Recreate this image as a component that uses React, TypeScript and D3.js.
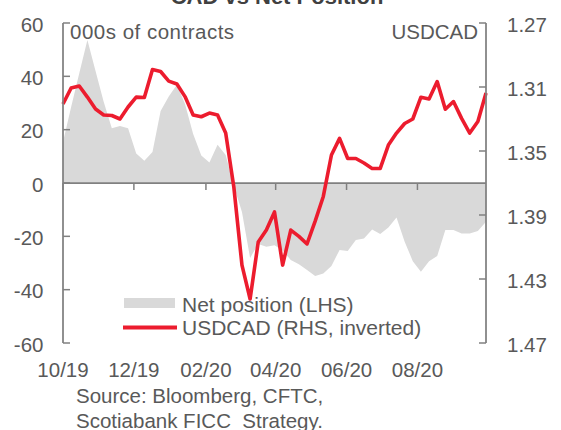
import * as d3 from 'd3'

// weekly CFTC report dates (Tuesdays)
const weeks = [
  '2019-10-01', '2019-10-08', '2019-10-15', '2019-10-22', '2019-10-29',
  '2019-11-05', '2019-11-12', '2019-11-19', '2019-11-26', '2019-12-03',
  '2019-12-10', '2019-12-17', '2019-12-24', '2019-12-31', '2020-01-07',
  '2020-01-14', '2020-01-21', '2020-01-28', '2020-02-04', '2020-02-11',
  '2020-02-18', '2020-02-25', '2020-03-03', '2020-03-10', '2020-03-17',
  '2020-03-24', '2020-03-31', '2020-04-07', '2020-04-14', '2020-04-21',
  '2020-04-28', '2020-05-05', '2020-05-12', '2020-05-19', '2020-05-26',
  '2020-06-02', '2020-06-09', '2020-06-16', '2020-06-23', '2020-06-30',
  '2020-07-07', '2020-07-14', '2020-07-21', '2020-07-28', '2020-08-04',
  '2020-08-11', '2020-08-18', '2020-08-25', '2020-09-01', '2020-09-08',
  '2020-09-15', '2020-09-22', '2020-09-29',
]

// CAD net position, 000s of contracts (LHS)
const netPosition = [
  15.4, 28.5, 41.2, 53.6, 42.0, 30.5, 20.5, 21.4, 20.5, 11.1,
  8.3, 11.6, 27.0, 32.4, 36.8, 29.6, 18.4, 10.3, 7.7, 14.3,
  10.5, -1.0, -10.9, -28.1, -22.9, -23.9, -23.3, -25.3, -28.9, -30.5,
  -32.6, -34.9, -33.9, -31.1, -25.1, -25.5, -21.4, -20.8, -17.4, -19.1,
  -16.7, -12.9, -22.0, -29.3, -33.3, -29.3, -27.4, -17.6, -17.6, -18.9,
  -18.9, -18.0, -14.5,
]

// USDCAD spot (RHS, inverted)
const usdcad = [
  1.3206, 1.3106, 1.3094, 1.3163, 1.3238, 1.3275, 1.3278, 1.3300, 1.3225, 1.3163,
  1.3166, 1.2991, 1.3003, 1.3063, 1.3081, 1.3160, 1.3275, 1.3286, 1.3263, 1.3275,
  1.3388, 1.3725, 1.4213, 1.4425, 1.4069, 1.3994, 1.3881, 1.4213, 1.3994, 1.4034,
  1.4081, 1.3938, 1.3784, 1.3525, 1.3421, 1.3547, 1.3547, 1.3575, 1.3609, 1.3609,
  1.3463, 1.3388, 1.3328, 1.3300, 1.3164, 1.3175, 1.3066, 1.3239, 1.3191, 1.3296,
  1.3388, 1.3316, 1.3138,
]

const leftTicks = [60, 40, 20, 0, -20, -40, -60]
const rightTicks = [1.27, 1.31, 1.35, 1.39, 1.43, 1.47]
const monthLabels = ['10/19', '12/19', '02/20', '04/20', '06/20', '08/20']

const font = '"Liberation Sans", Arial, sans-serif'
const textColor = '#595959'
const axisColor = '#808080'
const red = '#ec1c2e'
const grey = '#d9d9d9'

export default function App() {
  const width = 561
  const height = 430
  const plot = { left: 63, right: 486, top: 23, bottom: 343 }

  const parseDay = d3.utcParse('%Y-%m-%d')
  const parseMonth = d3.utcParse('%m/%y')
  const dates = weeks.map(d => parseDay(d)!)

  const x = d3.scaleUtc()
    .domain(d3.extent(dates) as [Date, Date])
    .range([plot.left, plot.right])
  const yL = d3.scaleLinear().domain([-60, 60]).range([plot.bottom, plot.top])
  const yR = d3.scaleLinear().domain([1.27, 1.47]).range([plot.top, plot.bottom])

  const area = d3.area<number>()
    .x((_, i) => x(dates[i]))
    .y0(yL(0))
    .y1(d => yL(d))
  const line = d3.line<number>()
    .x((_, i) => x(dates[i]))
    .y(d => yR(d))

  const zeroY = yL(0)

  return (
    <svg width={width} height={height}
      style={{ position: 'absolute', left: 0, top: 0, background: '#fff' }}
      fontFamily={font}>
      {/* title, cut off at the top edge */}
      <text x={277} y={4} textAnchor="middle" fontSize={22} fontWeight="bold" fill="#404040">
        CAD vs Net Position
      </text>

      <path d={area(netPosition)!} fill={grey} />

      {/* zero line doubles as the date axis */}
      <line x1={plot.left} x2={plot.right} y1={zeroY} y2={zeroY} stroke={axisColor} strokeWidth={1.75} />
      {monthLabels.map(m => {
        const px = x(parseMonth(m)!)
        return (
          <g key={m}>
            <line x1={px} x2={px} y1={zeroY} y2={zeroY + 7} stroke={axisColor} strokeWidth={1.5} />
            <text x={px} y={377} textAnchor="middle" fontSize={20.5} fill={textColor}>{m}</text>
          </g>
        )
      })}

      <path d={line(usdcad)!} fill="none" stroke={red} strokeWidth={3.6} strokeLinejoin="round" />

      {/* left axis */}
      <line x1={plot.left} x2={plot.left} y1={plot.top} y2={plot.bottom} stroke={axisColor} strokeWidth={1.75} />
      {leftTicks.map(t => (
        <g key={t}>
          <line x1={plot.left} x2={plot.left + 7} y1={yL(t)} y2={yL(t)} stroke={axisColor} strokeWidth={1.5} />
          <text x={43.5} y={yL(t) + 8.5} textAnchor="end" fontSize={20.5} fill={textColor}>{t}</text>
        </g>
      ))}

      {/* right axis */}
      <line x1={plot.right} x2={plot.right} y1={plot.top} y2={plot.bottom} stroke={axisColor} strokeWidth={1.75} />
      {rightTicks.map(t => (
        <g key={t}>
          <line x1={plot.right - 7} x2={plot.right} y1={yR(t)} y2={yR(t)} stroke={axisColor} strokeWidth={1.5} />
          <text x={507} y={yR(t) + 8.5} fontSize={20.5} fill={textColor}>{t.toFixed(2)}</text>
        </g>
      ))}

      <text x={70} y={38.5} fontSize={20.5} fill={textColor} letterSpacing={0.5}>000s of contracts</text>
      <text x={478} y={38.5} textAnchor="end" fontSize={20.5} fill={textColor}>USDCAD</text>

      {/* legend */}
      <rect x={124} y={298} width={51} height={10} fill={grey} />
      <text x={182} y={311.5} fontSize={21} fill={textColor}>Net position (LHS)</text>
      <line x1={123} x2={177} y1={327.5} y2={327.5} stroke={red} strokeWidth={4} />
      <text x={182} y={335} fontSize={21} fill={textColor}>USDCAD (RHS, inverted)</text>

      <text x={76} y={403} fontSize={20.5} fill={textColor}>Source: Bloomberg, CFTC,</text>
      <text x={76} y={428} fontSize={20.5} fill={textColor} style={{ whiteSpace: 'pre' }}>Scotiabank FICC  Strategy.</text>
    </svg>
  )
}
